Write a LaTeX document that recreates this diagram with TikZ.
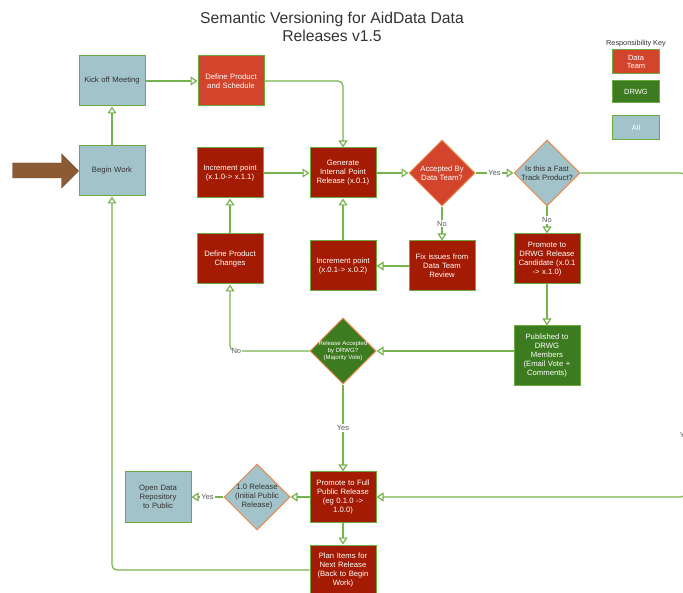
\documentclass[tikz,border=0pt]{standalone}
\usepackage{fontspec}
\setmainfont{Liberation Sans}
\usetikzlibrary{arrows.meta,shapes.geometric}
\definecolor{allblue}{HTML}{A2C3CA}
\definecolor{teamred}{HTML}{D2442B}
\definecolor{darkred}{HTML}{A31B03}
\definecolor{drwggreen}{HTML}{3D7B20}
\definecolor{rimgreen}{HTML}{6CAB3F}
\definecolor{linegreen}{HTML}{76B24E}
\definecolor{rimorange}{HTML}{E98A4C}
\definecolor{darktext}{HTML}{333333}
\definecolor{arrowbrown}{HTML}{8C5A33}

\begin{document}
\begin{tikzpicture}[x=1pt,y=-1pt]
  \tikzset{box/.style = {shape=rectangle,draw=rimgreen,line width=1pt,minimum width=66pt,minimum height=50pt,text width=63pt,align=center,inner sep=1pt,font=\fontsize{7.7}{9}\selectfont}}
  \tikzset{allbox/.style = {box,fill=allblue,text=darktext}}
  \tikzset{teambox/.style = {box,fill=teamred,text=white}}
  \tikzset{darkbox/.style = {box,fill=darkred,text=white}}
  \tikzset{drwgbox/.style = {box,fill=drwggreen,text=white}}
  \tikzset{decision/.style = {shape=diamond,draw=rimorange,line width=1pt,minimum size=66pt,inner sep=-3pt,align=center,font=\fontsize{7.7}{9}\selectfont}}
  \tikzset{keybox/.style = {shape=rectangle,draw=rimgreen,line width=1pt,minimum width=47pt,minimum height=24pt,align=center,text=white,font=\fontsize{7.5}{8.6}\selectfont}}
  \tikzset{edge/.style = {-{Triangle[open,width=9pt,length=7pt]},draw=linegreen,line width=1.2pt}}
  \tikzset{answer/.style = {fill=white,inner sep=1pt,text=darktext!80,font=\fontsize{7.5}{8}\selectfont}}
  \useasboundingbox (0,0) rectangle (683,593);

  \node[font=\fontsize{15.7}{18}\selectfont,text=darktext,align=center] (title) at (332,27) {Semantic Versioning for AidData Data\\Releases v1.5};

  % responsibility key
  \node[font=\fontsize{7.3}{8}\selectfont,text=darktext] (keytitle) at (636,44) {Responsibility Key};
  \node[keybox,fill=teamred] (keyteam) at (636,62) {Data\\Team};
  \node[keybox,fill=drwggreen,minimum height=22pt] (keydrwg) at (636,92) {DRWG};
  \node[keybox,fill=allblue] (keyall) at (636,128) {All};

  \node[allbox] (kick) at (112,81) {Kick off Meeting};
  \node[teambox] (defsched) at (231,81) {Define Product\\and Schedule};
  \node[allbox] (begin) at (112,171) {Begin Work};
  \node[darkbox] (incmajor) at (230,173) {Increment point\\(x.1.0-> x.1.1)};
  \node[darkbox] (generate) at (343,173) {Generate\\Internal Point\\Release (x.0.1)};
  \node[decision,fill=teamred,text=white] (teamok) at (442,173) {Accepted By\\Data Team?};
  \node[decision,fill=allblue,text=darktext] (fast) at (547,173) {Is this a Fast\\Track Product?};
  \node[darkbox] (defchg) at (230,259) {Define Product\\Changes};
  \node[darkbox] (incminor) at (343,266) {Increment point\\(x.0.1-> x.0.2)};
  \node[darkbox] (fix) at (442,266) {Fix issues from\\Data Team\\Review};
  \node[darkbox] (candidate) at (547,259) {Promote to\\DRWG Release\\Candidate (x.0.1\\-> x.1.0)};
  \node[drwgbox,minimum height=60pt] (published) at (547,356) {Published to\\DRWG\\Members\\(Email Vote +\\Comments)};
  \node[decision,fill=drwggreen,text=white,font=\fontsize{6}{7}\selectfont] (drwgok) at (343,351) {Release Accepted\\by DRWG?\\(Majority Vote)};
  \node[darkbox] (full) at (343,497) {Promote to Full\\Public Release\\(eg 0.1.0 ->\\1.0.0)};
  \node[decision,fill=allblue,text=darktext] (firstrel) at (257,497) {1.0 Release\\(Initial Public\\Release)};
  \node[allbox] (opendata) at (158,497) {Open Data\\Repository\\to Public};
  \node[darkbox] (plan) at (343,570) {Plan Items for\\Next Release\\(Back to Begin\\Work)};

  \coordinate (offtop) at (686,173);
  \coordinate (offbot) at (686,497);

  % way in
  \fill[arrowbrown,draw=arrowbrown!75!black] (begin.west) -- ++(-17,-17) -- ++(0,9) -- ++(-49,0) -- ++(0,15) -- ++(49,0) -- ++(0,10) -- cycle;

  \draw[edge] (begin) -- (kick);
  \draw[edge] (kick) -- (defsched);
  \draw[edge,rounded corners=5pt] (defsched.east) -| (generate.north);
  \draw[edge] (incmajor) -- (generate);
  \draw[edge] (generate) -- (teamok);
  \draw[edge] (teamok) -- node[answer]{Yes} (fast);
  \draw[edge] (teamok) -- node[answer]{No} (fix);
  \draw[edge] (fix) -- (incminor);
  \draw[edge] (incminor) -- (generate);
  \draw[edge] (defchg) -- (incmajor);
  \draw[edge] (fast) -- node[answer]{No} (candidate);
  \draw[edge] (candidate) -- (published);
  \draw[edge] (published.west |- drwgok) -- (drwgok);
  \draw[edge,rounded corners=5pt] (drwgok.west) -| node[answer,pos=0.46]{No} (defchg.south);
  \draw[edge] (drwgok) -- node[answer]{Yes} (full);
  \draw[edge] (full) -- (firstrel);
  \draw[edge] (firstrel) -- node[answer]{Yes} (opendata);
  \draw[edge] (full) -- (plan);
  \draw[edge,rounded corners=5pt] (plan.west) -| (begin.south);
  \draw[edge,rounded corners=5pt] (fast.east) -- (offtop) -- node[answer,pos=0.81]{Yes} (offbot) -- (full.east);
\end{tikzpicture}
\end{document}
